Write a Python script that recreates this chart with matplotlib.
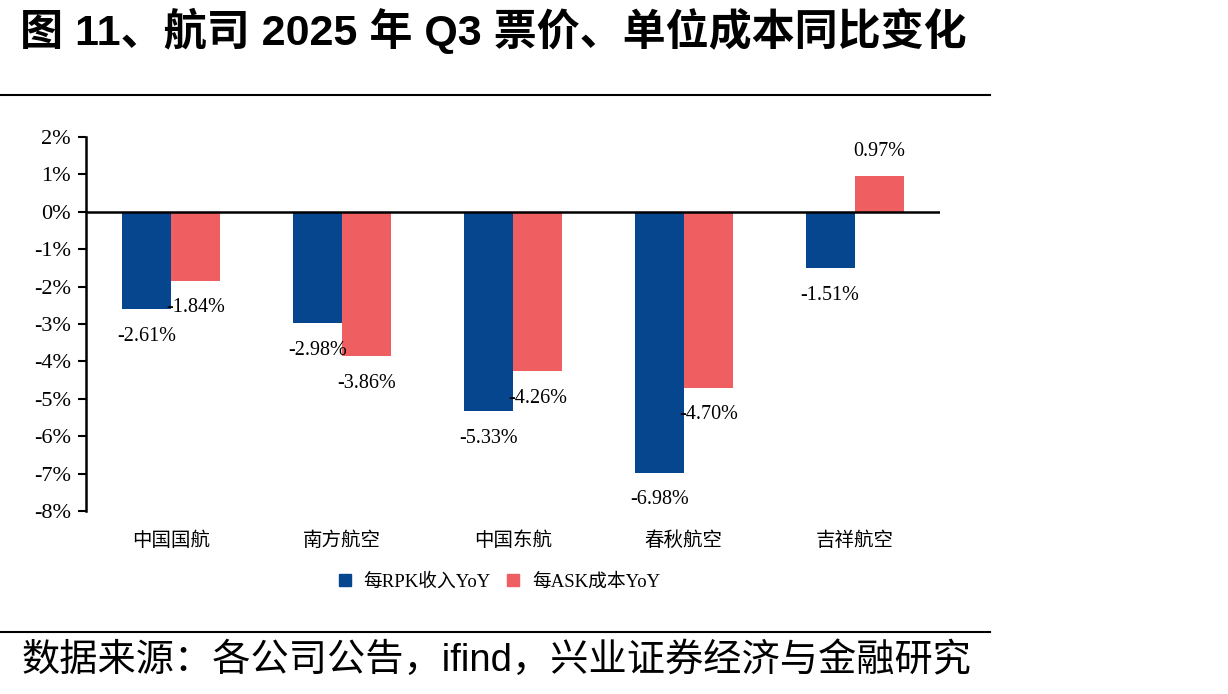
import numpy as np
import matplotlib.pyplot as plt
from matplotlib.lines import Line2D

plt.rcParams['font.family'] = ['Liberation Serif', 'Noto Sans CJK SC']

airlines = ['中国国航', '南方航空', '中国东航', '春秋航空', '吉祥航空']
rpk_yoy = [-2.61, -2.98, -5.33, -6.98, -1.51]
ask_yoy = [-1.84, -3.86, -4.26, -4.70, 0.97]
series_names = ['每RPK收入YoY', '每ASK成本YoY']
colors = ['#05468f', '#ef5f61']

fig = plt.figure(figsize=(12.28, 6.94), dpi=100)
ax = fig.add_axes([86 / 1228, 1 - 511 / 694, 854 / 1228, 374 / 694])

x = np.arange(len(airlines))
w = 0.287
b1 = ax.bar(x - w / 2, rpk_yoy, w, color=colors[0], label=series_names[0])
b2 = ax.bar(x + w / 2, ask_yoy, w, color=colors[1], label=series_names[1])

# value labels ~26px beyond the bar end
for bars, vals in [(b1, rpk_yoy), (b2, ask_yoy)]:
    for bar, v in zip(bars, vals):
        cx = bar.get_x() + bar.get_width() / 2
        off = -19.5 if v < 0 else 17.5
        ax.annotate(f'{v:.2f}%', (cx, v), xytext=(0, off), textcoords='offset points',
                    ha='center', va='center', fontsize=14.5, fontfamily='Liberation Serif')

ax.set_xlim(-0.5, 4.5)
ax.set_ylim(-8, 2)
ax.axhline(0, color='black', lw=1.8)
ax.set_yticks(range(-8, 3))
ax.set_yticklabels([f'{t}%' for t in range(-8, 3)], fontsize=16)
ax.tick_params(axis='y', direction='out', length=6, width=1.5, pad=5)
ax.tick_params(axis='x', length=0, pad=14)
ax.set_xticks(x)
ax.set_xticklabels(airlines, fontsize=14, fontfamily=['Noto Sans CJK SC'])
for s in ['top', 'right', 'bottom']:
    ax.spines[s].set_visible(False)
ax.spines['left'].set_linewidth(1.8)

handles = [Line2D([], [], marker='s', ls='', color=c, markersize=9) for c in colors]
fig.legend(handles, series_names, loc='center', bbox_to_anchor=(493 / 1228, 1 - 582 / 694),
           ncol=2, frameon=False, handletextpad=0.0, columnspacing=0.2,
           prop={'family': ['Liberation Serif', 'Noto Sans CJK SC'], 'size': 13.5})

fig.text(20 / 1228, 1 - 31 / 694, '图 11、航司 2025 年 Q3 票价、单位成本同比变化',
         fontsize=31, fontweight='bold', va='center', ha='left',
         fontfamily=['Liberation Sans', 'Noto Sans CJK SC'])
fig.add_artist(Line2D([0, 990 / 1228], [1 - 95 / 694] * 2, color='black', lw=1.5))
fig.add_artist(Line2D([0, 990 / 1228], [1 - 632 / 694] * 2, color='black', lw=1.5))
fig.text(22 / 1228, 1 - 661 / 694, '数据来源：各公司公告，ifind，兴业证券经济与金融研究',
         fontsize=27.5, va='center', ha='left',
         fontfamily=['Liberation Sans', 'Noto Sans CJK SC'])

fig.savefig('out.png', dpi=100)
